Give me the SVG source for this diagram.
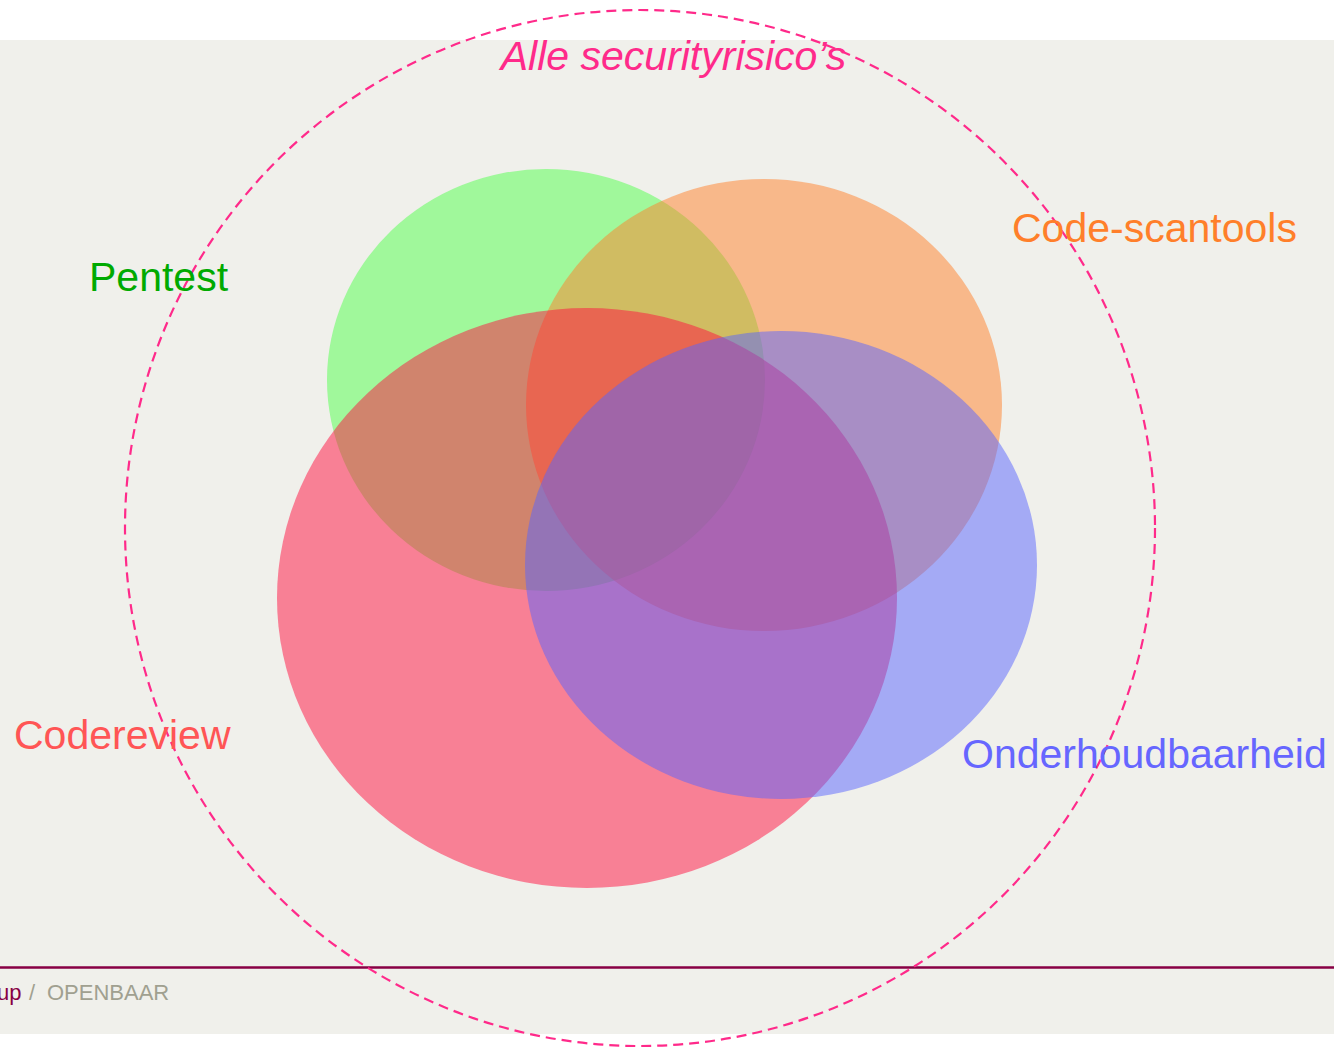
<svg xmlns="http://www.w3.org/2000/svg" width="1334" height="1047" viewBox="0 0 1334 1047">
<style>
.set{opacity:0.5}
.lbl{font-family:"Liberation Sans",Arial,sans-serif;font-size:41px}
.foot{font-family:"Liberation Sans",Arial,sans-serif;font-size:22px}
</style>
<rect x="0" y="0" width="1334" height="1047" fill="#ffffff"/>
<rect x="0" y="40" width="1334" height="994" fill="#f0f0eb"/>
<g id="footer">
<line x1="0" y1="967.5" x2="1334" y2="967.5" stroke="#880044" stroke-width="2.5"/>
<text class="foot" x="-3" y="1000" fill="#880044">up</text>
<text class="foot" x="29" y="1000" fill="#a0a090" font-size="26">/</text>
<text class="foot" x="47" y="1000" fill="#a0a090">OPENBAAR</text>
</g>
<g id="pentest"><ellipse class="set" cx="546" cy="380" rx="219" ry="211" fill="#50ff4b"/></g>
<g id="codescantools"><ellipse class="set" cx="764" cy="405" rx="238" ry="226" fill="#ff7f2a"/></g>
<g id="codereview"><ellipse class="set" cx="587" cy="598" rx="310" ry="290" fill="#ff1040"/></g>
<g id="onderhoudbaarheid"><ellipse class="set" cx="781" cy="565" rx="256" ry="234" fill="#5864ff"/></g>
<g id="alle"><ellipse cx="640" cy="528" rx="515" ry="518" fill="none" stroke="#ff2a8a" stroke-width="2.2" stroke-dasharray="10,6"/></g>
<g id="labels">
<text class="lbl" x="673.5" y="70" text-anchor="middle" font-style="italic" fill="#ff2a8a">Alle securityrisico’s</text>
<text class="lbl" x="89" y="291" fill="#00aa00">Pentest</text>
<text class="lbl" x="1012" y="242" fill="#ff7f2a">Code-scantools</text>
<text class="lbl" x="14" y="749" fill="#ff5555">Codereview</text>
<text class="lbl" x="962" y="768" fill="#6666ff">Onderhoudbaarheid</text>
</g>
</svg>
